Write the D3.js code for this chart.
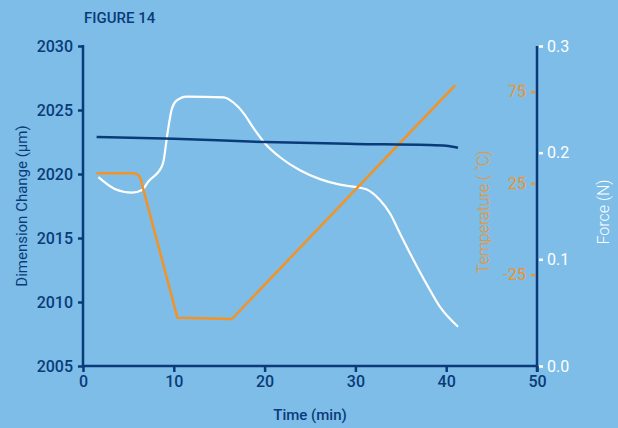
<!DOCTYPE html>
<html>
<head>
<meta charset="utf-8">
<script src="https://cdn.jsdelivr.net/npm/d3@7"></script>
<style>
  body { margin: 0; background: #7dbde8; }
  svg { display: block; font-family: Roboto, "DejaVu Sans", sans-serif; }
</style>
</head>
<body>
<div id="chart"></div>
<script>
'use strict';

// time (min) / dimension change (um) for the navy trace
const dimTime = [1.5, 10, 20, 30, 38, 40, 41.3];
const dimValues = [2022.9, 2022.75, 2022.5, 2022.35, 2022.27, 2022.2, 2022.05];

// temperature (C) trace
const tempTime = [1.5, 5.6, 6.0, 6.3, 10.4, 16.4, 41.0];
const tempValues = [30.4, 30.4, 29.8, 28.0, -48.6, -49.3, 78.6];

// force (N) trace
const forceTime = [1.7, 3.5, 5.4, 6.5, 7.2, 8.7, 8.85, 9.3, 9.8, 10.3, 11.4, 15.5, 16.6, 17.7,
  18.8, 20.2, 21.7, 23.9, 26.1, 28.3, 29.8, 31.2, 32.7, 33.8, 34.9, 36.4, 37.9, 39.3, 41.3];
const forceValues = [0.177, 0.166, 0.1625, 0.165, 0.173, 0.1875, 0.1915, 0.218, 0.2415, 0.2487,
  0.2525, 0.2519, 0.2468, 0.2369, 0.2228, 0.2072, 0.1957, 0.1835, 0.1752, 0.17, 0.1681,
  0.1657, 0.1556, 0.1432, 0.1244, 0.0994, 0.0759, 0.0556, 0.0368];

const timeTicks = [0, 10, 20, 30, 40, 50];
const dimTicks = [2005, 2010, 2015, 2020, 2025, 2030];
const tempTicks = [-25, 25, 75];
const forceTicks = [0, 0.1, 0.2, 0.3];

const navy = '#0a3b78';
const orange = '#f39325';
const white = '#ffffff';

const width = 618, height = 428;
const plot = { left: 83, right: 537, top: 46, bottom: 366 };

const svg = d3.select('#chart').append('svg')
  .attr('width', width)
  .attr('height', height);

svg.append('rect').attr('width', width).attr('height', height).attr('fill', '#7dbde8');

const x = d3.scaleLinear().domain([0, 50]).range([plot.left, plot.right]);
const yDim = d3.scaleLinear().domain([2005, 2030]).range([plot.bottom, plot.top]);
const yTemp = d3.scaleLinear().domain([-75, 100]).range([plot.bottom, plot.top]);
const yForce = d3.scaleLinear().domain([0, 0.3]).range([plot.bottom, plot.top]);

function styleAxis(g, color, size, weight) {
  g.select('.domain').remove();
  g.selectAll('.tick line').attr('stroke', color).attr('stroke-width', 2.5);
  g.selectAll('.tick text')
    .attr('fill', color)
    .style('font-size', size + 'px')
    .style('font-weight', weight)
    .style('font-family', 'Roboto, sans-serif');
}

// left axis
svg.append('g')
  .attr('transform', 'translate(' + plot.left + ',0)')
  .call(d3.axisLeft(yDim).tickValues(dimTicks).tickSize(5).tickPadding(5).tickFormat(d3.format('d')))
  .call(g => styleAxis(g, navy, 16, 500));

// bottom axis
svg.append('g')
  .attr('transform', 'translate(0,' + plot.bottom + ')')
  .call(d3.axisBottom(x).tickValues(timeTicks).tickSize(6).tickPadding(4))
  .call(g => styleAxis(g, navy, 16, 500));

// temperature axis (labels left of the right line)
svg.append('g')
  .attr('transform', 'translate(' + (plot.right - 2) + ',0)')
  .call(d3.axisLeft(yTemp).tickValues(tempTicks).tickSize(4).tickPadding(5)
    .tickFormat(d => d < 0 ? '-' + Math.abs(d) : d))
  .call(g => styleAxis(g, orange, 16, 400));

// force axis
svg.append('g')
  .attr('transform', 'translate(' + (plot.right + 2) + ',0)')
  .call(d3.axisRight(yForce).tickValues(forceTicks).tickSize(4).tickPadding(4).tickFormat(d3.format('.1f')))
  .call(g => styleAxis(g, white, 16, 400));

// axis lines
svg.append('line')
  .attr('x1', plot.left).attr('x2', plot.left)
  .attr('y1', plot.top - 1).attr('y2', plot.bottom + 1)
  .attr('stroke', navy).attr('stroke-width', 2.5);
svg.append('line')
  .attr('x1', plot.left).attr('x2', plot.right)
  .attr('y1', plot.bottom).attr('y2', plot.bottom)
  .attr('stroke', navy).attr('stroke-width', 2.5);
svg.append('line')
  .attr('x1', plot.right).attr('x2', plot.right)
  .attr('y1', plot.top).attr('y2', plot.bottom + 6)
  .attr('stroke', navy).attr('stroke-width', 2.5);

// traces
const lineDim = d3.line().x(d => x(d[0])).y(d => yDim(d[1])).curve(d3.curveMonotoneX);
const lineTemp = d3.line().x(d => x(d[0])).y(d => yTemp(d[1])).curve(d3.curveLinear);
const lineForce = d3.line().x(d => x(d[0])).y(d => yForce(d[1])).curve(d3.curveMonotoneX);

svg.append('path')
  .datum(d3.zip(forceTime, forceValues))
  .attr('d', lineForce)
  .attr('fill', 'none').attr('stroke', white).attr('stroke-width', 2.2);

svg.append('path')
  .datum(d3.zip(tempTime, tempValues))
  .attr('d', lineTemp)
  .attr('fill', 'none').attr('stroke', orange).attr('stroke-width', 2.5)
  .attr('stroke-linejoin', 'round');

svg.append('path')
  .datum(d3.zip(dimTime, dimValues))
  .attr('d', lineDim)
  .attr('fill', 'none').attr('stroke', navy).attr('stroke-width', 2.5);

// titles
svg.append('text')
  .attr('x', 84).attr('y', 23)
  .attr('fill', navy)
  .style('font-size', '15px').style('font-weight', 500)
  .text('FIGURE 14');

svg.append('text')
  .attr('x', 310).attr('y', 420)
  .attr('text-anchor', 'middle')
  .attr('fill', navy)
  .style('font-size', '15px').style('font-weight', 500)
  .text('Time (min)');

svg.append('text')
  .attr('transform', 'translate(27,206) rotate(-90)')
  .attr('text-anchor', 'middle')
  .attr('fill', navy)
  .style('font-size', '15px')
  .text('Dimension Change (\u03bcm)');

svg.append('text')
  .attr('transform', 'translate(489,212) rotate(-90)')
  .attr('text-anchor', 'middle')
  .attr('fill', orange)
  .style('font-size', '16px').style('font-weight', 300)
  .text('Temperature ( \u02daC)');

svg.append('text')
  .attr('transform', 'translate(609,212) rotate(-90)')
  .attr('text-anchor', 'middle')
  .attr('fill', white)
  .style('font-size', '16px').style('font-weight', 300)
  .text('Force (N)');
</script>
</body>
</html>
